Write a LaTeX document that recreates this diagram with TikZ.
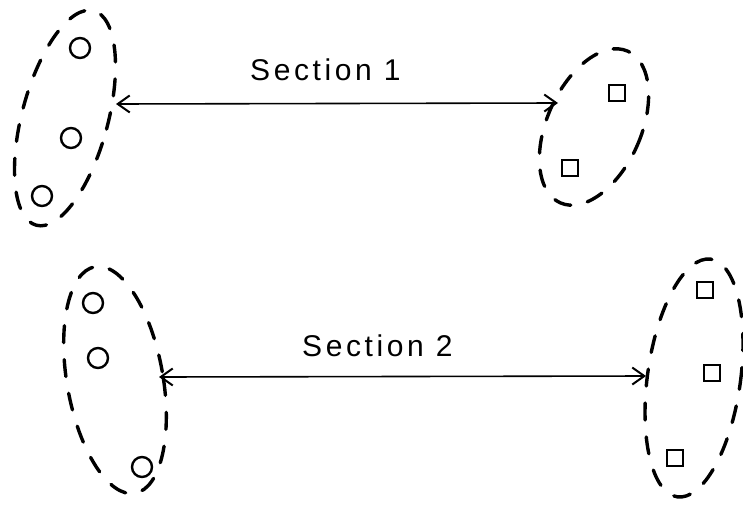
\documentclass[tikz,border=0pt]{standalone}
\usepackage{fontspec}
\usetikzlibrary{shapes.geometric,arrows.meta}
\newfontfamily\lblfont[LetterSpace=12]{Liberation Sans}
\tikzset{
  grp/.style={ellipse, draw, inner sep=0pt, line width=3.4pt, line cap=round,
    dash pattern=on 17pt off 17pt},
  dot/.style={circle, draw, line width=2.4pt, minimum size=20pt, inner sep=0pt},
  sq/.style={rectangle, draw, line width=1.7pt, minimum size=16pt, inner sep=0pt},
  link/.style={line width=1.6pt, {Straight Barb[length=12pt,width=17pt,line width=2pt]}-{Straight Barb[length=12pt,width=17pt,line width=2pt]}},
  lbl/.style={font=\lblfont\fontsize{30}{36}\selectfont, anchor=base west, inner sep=0pt}
}
\begin{document}
\begin{tikzpicture}[x=1pt,y=-1pt]
\useasboundingbox (0,0) rectangle (743,506);
% groups
\node[grp, minimum width=86pt, minimum height=222pt, rotate=-15] (g1) at (65,118) {};
\node[grp, minimum width=94pt, minimum height=166pt, rotate=-24] (g2) at (594,127) {};
\node[grp, minimum width=96pt, minimum height=230pt, rotate=10] (g3) at (115,380) {};
\node[grp, minimum width=93pt, minimum height=240pt, rotate=-8] (g4) at (694,378) {};
% members
\node[dot] (c1) at (80,48) {};
\node[dot] (c2) at (71,138) {};
\node[dot] (c3) at (42,196) {};
\node[sq] (s1) at (617,93) {};
\node[sq] (s2) at (570,168) {};
\node[dot] (c4) at (93,303) {};
\node[dot] (c5) at (98,358) {};
\node[dot] (c6) at (142,467) {};
\node[sq] (s3) at (705,290) {};
\node[sq] (s4) at (712,373) {};
\node[sq] (s5) at (675,458) {};
% connectors
\coordinate (a1l) at (116,104);
\coordinate (a1r) at (558,103);
\coordinate (a2l) at (159,377);
\coordinate (a2r) at (646,376);
\draw[link] (a1l) -- (a1r);
\draw[link] (a2l) -- (a2r);
% labels
\node[lbl] (t1) at (250,80) {Section 1};
\node[lbl] (t2) at (302,356) {Section 2};
\end{tikzpicture}
\end{document}
